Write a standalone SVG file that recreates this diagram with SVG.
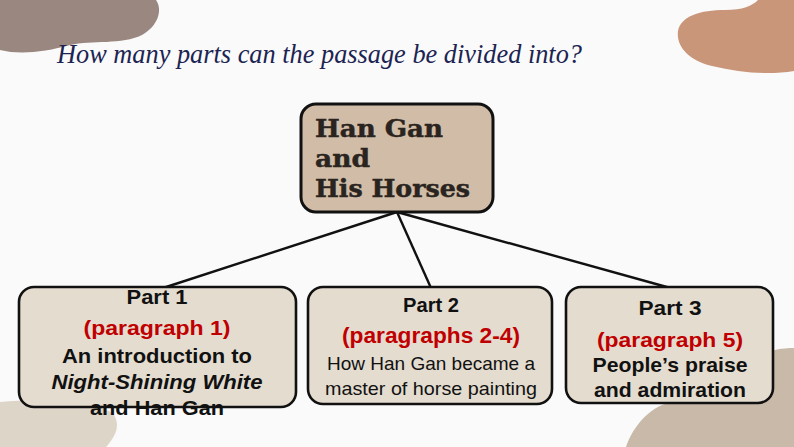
<svg xmlns="http://www.w3.org/2000/svg" width="794" height="447" viewBox="0 0 794 447">
<style>
.part{fill:#e4dccf;stroke:none}
.outline{fill:none;stroke:#111;stroke-width:2.6}
.sans{font-family:"Liberation Sans",Arial,sans-serif;text-anchor:middle}
.b{font-weight:bold}
.red{fill:#c00000}
.blk{fill:#111}
.conn line{stroke:#111;stroke-width:2.4}
</style>
<rect width="794" height="447" fill="#fafafa"/>
<g id="decor">
<path d="M0,0 L156,0 C163,10 158,26 142,35 C122,45 92,40 70,45 C45,52 20,55 0,50 Z" fill="#998780"/>
<path d="M758,0 L794,0 L794,71 C770,75 740,73 712,66 C688,60 676,46 678,31 C681,16 700,10 725,10 C743,10 752,6 758,0 Z" fill="#c9967a"/>
<path d="M0,402 C40,398 100,400 114,415 C122,428 112,440 106,447 L0,447 Z" fill="#ddd5c8"/>
<path d="M794,348 C770,348 752,356 737,374 C722,392 690,396 662,405 C642,414 630,434 626,447 L794,447 Z" fill="#c9b9a8"/>
</g>
<text x="57" y="63" font-family="'Liberation Serif','Times New Roman',serif" font-style="italic" font-size="27" fill="#1c2452" textLength="525" lengthAdjust="spacingAndGlyphs">How many parts can the passage be divided into?</text>
<g id="connectors" class="conn">
<line x1="397" y1="212" x2="160" y2="289"/>
<line x1="397" y1="212" x2="431" y2="288"/>
<line x1="397" y1="212" x2="674" y2="289"/>
</g>
<g id="root">
<rect x="301" y="104" width="192" height="108" rx="15" fill="#d1bda7" stroke="#111" stroke-width="3"/>
<g font-family="'DejaVu Serif','Liberation Serif',serif" font-weight="bold" font-size="25" fill="#2a2420" stroke="#2a2420" stroke-width="0.5">
<text x="315" y="137" textLength="128" lengthAdjust="spacingAndGlyphs">Han Gan</text>
<text x="315" y="167" textLength="55" lengthAdjust="spacingAndGlyphs">and</text>
<text x="315" y="197" textLength="155" lengthAdjust="spacingAndGlyphs">His Horses</text>
</g>
</g>
<g id="part1">
<rect class="part" x="19" y="287" width="277" height="120" rx="15"/>
<text class="sans b blk" x="157" y="304" font-size="21" textLength="61" lengthAdjust="spacingAndGlyphs">Part 1</text>
<text class="sans b red" x="157" y="335" font-size="21" textLength="147" lengthAdjust="spacingAndGlyphs">(paragraph 1)</text>
<text class="sans b blk" x="157" y="363" font-size="21" textLength="190" lengthAdjust="spacingAndGlyphs">An introduction to</text>
<text class="sans b blk" x="157" y="389" font-size="21" font-style="italic" textLength="211" lengthAdjust="spacingAndGlyphs">Night-Shining White</text>
<text class="sans b blk" x="157" y="415" font-size="21" textLength="134" lengthAdjust="spacingAndGlyphs">and Han Gan</text>
<rect class="outline" x="19" y="287" width="277" height="120" rx="15"/>
</g>
<g id="part2">
<rect class="part" x="308" y="287" width="244" height="117" rx="15"/>
<text class="sans b blk" x="431" y="312" font-size="20" textLength="56" lengthAdjust="spacingAndGlyphs">Part 2</text>
<text class="sans b red" x="431" y="343" font-size="22" textLength="178" lengthAdjust="spacingAndGlyphs">(paragraphs 2-4)</text>
<text class="sans blk" x="431" y="370" font-size="19" textLength="208" lengthAdjust="spacingAndGlyphs">How Han Gan became a</text>
<text class="sans blk" x="431" y="395" font-size="19" textLength="212" lengthAdjust="spacingAndGlyphs">master of horse painting</text>
<rect class="outline" x="308" y="287" width="244" height="117" rx="15"/>
</g>
<g id="part3">
<rect class="part" x="566" y="287" width="207" height="116" rx="15"/>
<text class="sans b blk" x="670" y="315" font-size="21" textLength="63" lengthAdjust="spacingAndGlyphs">Part 3</text>
<text class="sans b red" x="670" y="347" font-size="21" textLength="146" lengthAdjust="spacingAndGlyphs">(paragraph 5)</text>
<text class="sans b blk" x="670" y="372" font-size="21" textLength="155" lengthAdjust="spacingAndGlyphs">People’s praise</text>
<text class="sans b blk" x="670" y="397" font-size="21" textLength="152" lengthAdjust="spacingAndGlyphs">and admiration</text>
<rect class="outline" x="566" y="287" width="207" height="116" rx="15"/>
</g>
</svg>
